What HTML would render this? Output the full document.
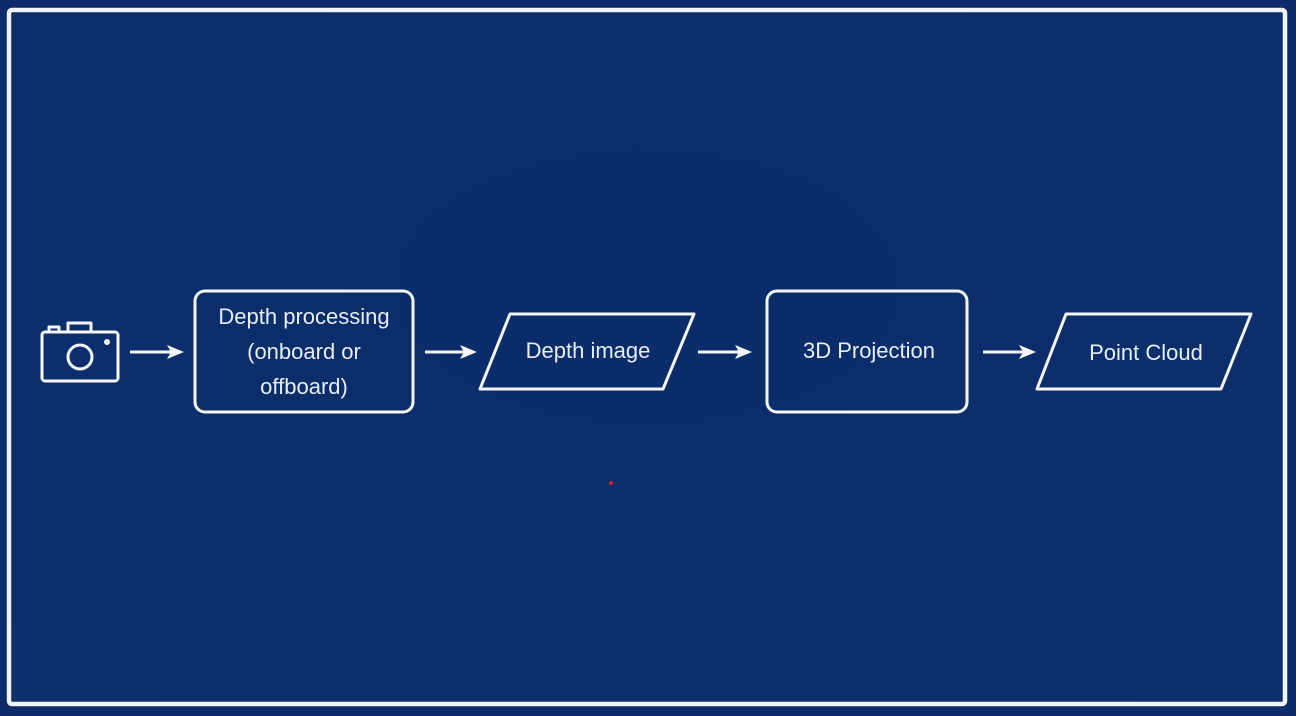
<!DOCTYPE html>
<html><head><style>
html,body{margin:0;padding:0;width:1296px;height:716px;overflow:hidden;background:#0b2c68;}
svg{display:block}
text{font-family:"Liberation Sans",sans-serif;fill:#e8eef8;font-size:22px;}
</style></head><body>
<svg width="1296" height="716" viewBox="0 0 1296 716">
<defs>
<radialGradient id="g" cx="0.5" cy="0.4" r="0.8">
<stop offset="0" stop-color="#0a2c68"/><stop offset="1" stop-color="#0d2f6b"/>
</radialGradient>
</defs>
<rect width="1296" height="716" fill="#0b2c68"/>
<rect x="9" y="10" width="1276" height="694" rx="3" fill="url(#g)" stroke="#f2f4f8" stroke-width="4.5"/>
<g stroke="#f4f6fa" stroke-width="3" fill="none" stroke-linejoin="round">
<!-- camera -->
<rect x="42" y="332" width="76" height="49" rx="3"/>
<path d="M49 332 v-5 h10 v5 M68 332 v-9 h23 v9"/>
<circle cx="80" cy="357" r="12"/>
<!-- boxes -->
<rect x="195" y="291" width="218" height="121" rx="10"/>
<path d="M510 314 H694 L663 389 H480 Z"/>
<rect x="767" y="291" width="200" height="121" rx="10"/>
<path d="M1066 314 H1251 L1221 389 H1037 Z"/>
<!-- arrows -->
<path d="M130 352 H176 M425 352 H470 M698 352 H745 M983 352 H1029"/>
</g>
<circle cx="107" cy="342" r="3" fill="#f4f6fa"/>
<g fill="#f4f6fa">
<path d="M184 352 L167 345 L171 352 L167 359 Z"/>
<path d="M477 352 L460 345 L464 352 L460 359 Z"/>
<path d="M752 352 L735 345 L739 352 L735 359 Z"/>
<path d="M1036 352 L1019 345 L1023 352 L1019 359 Z"/>
</g>
<text x="304" y="324" text-anchor="middle">Depth processing</text>
<text x="304" y="359" text-anchor="middle">(onboard or</text>
<text x="304" y="394" text-anchor="middle">offboard)</text>
<text x="588" y="358" text-anchor="middle">Depth image</text>
<text x="869" y="358" text-anchor="middle">3D Projection</text>
<text x="1146" y="360" text-anchor="middle">Point Cloud</text>
<circle cx="611" cy="483" r="2" fill="#e02020"/>
</svg>
</body></html>
